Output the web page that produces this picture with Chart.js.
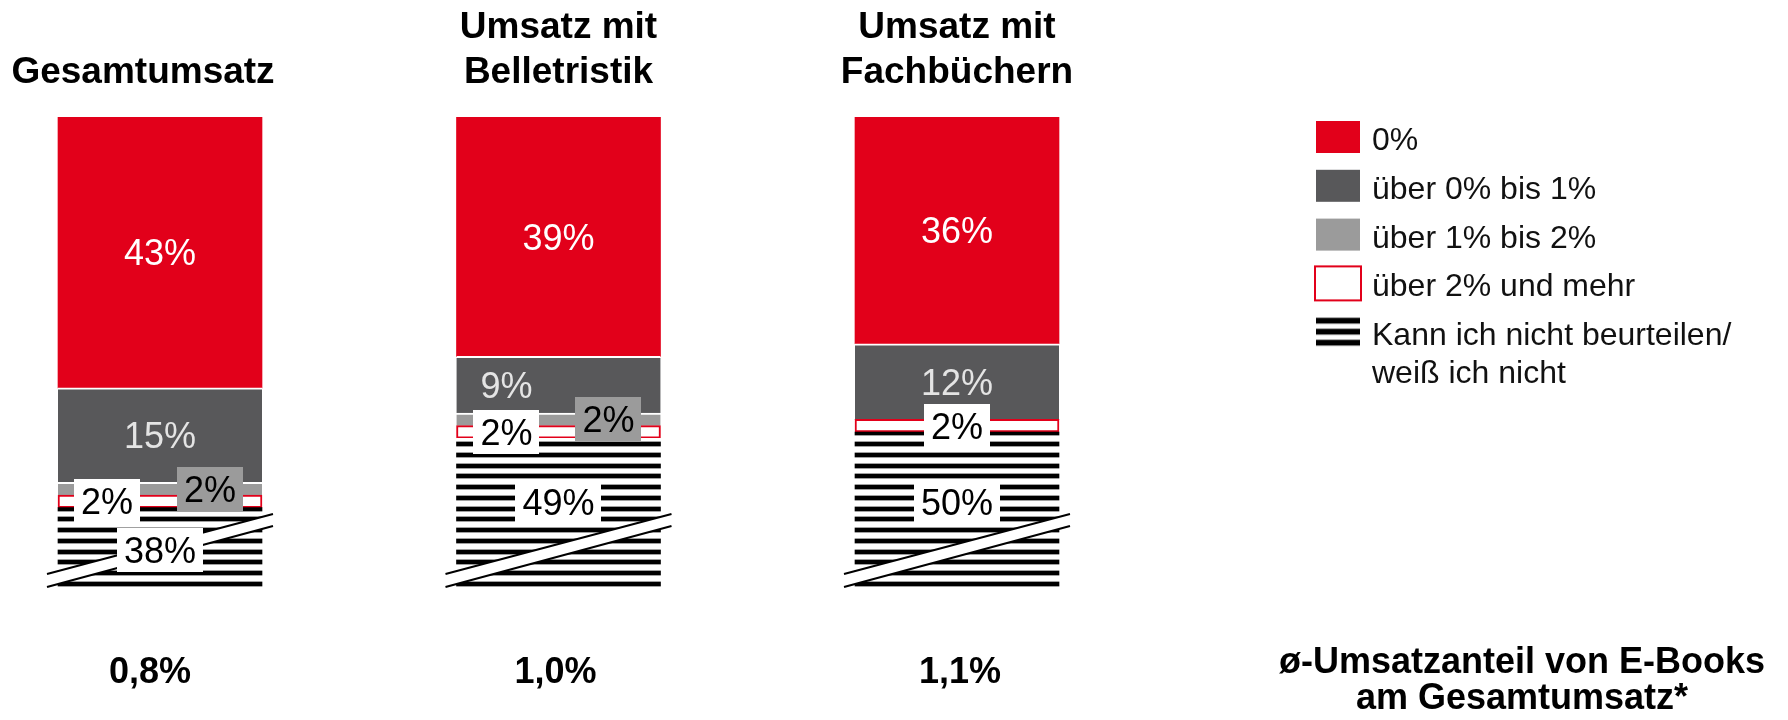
<!DOCTYPE html>
<html lang="de">
<head>
<meta charset="utf-8">
<title>E-Book-Umsatzanteil</title>
<script src="https://cdn.jsdelivr.net/npm/chart.js@4.4.1/dist/chart.umd.min.js"></script>
<style>
  html, body { margin: 0; padding: 0; background: #fff; }
  #wrap { width: 1788px; height: 720px; }
</style>
</head>
<body>
<div id="wrap"><canvas id="chart" width="1788" height="720"></canvas></div>
<script>
// Daten
const categories = [['Gesamtumsatz'], ['Umsatz mit', 'Belletristik'], ['Umsatz mit', 'Fachbüchern']]
const share0 = [43, 39, 36]
const shareUpTo1 = [15, 9, 12]
const shareUpTo2 = [2, 2, 0]
const shareAbove2 = [2, 2, 2]
const dontKnow = [38, 49, 50]
const avgShare = ['0,8%', '1,0%', '1,1%']
const avgCaption = ['ø-Umsatzanteil von E-Books', 'am Gesamtumsatz*']
const seriesLabels = ['0%', 'über 0% bis 1%', 'über 1% bis 2%', 'über 2% und mehr', 'Kann ich nicht beurteilen/\nweiß ich nicht']

const RED = '#e2001a'
const DARK = '#58585a'
const LIGHT = '#9b9b9b'
const FONT = '"Liberation Sans", Arial, Helvetica, sans-serif'

// kleine Layout-Korrekturen (Pixel)
const titleShift = [-17, 0, 0]
const avgShift = [-10, -3, 3]
const labelStyle = {
  red:     { color: '#ffffff', dx: [0, 0, 0], dy: [0, 0, 0] },
  dark:    { color: '#e4e4e4', dx: [0, -52, 0], dy: [0, 0, 0] },
  light:   { color: '#000000', box: LIGHT, dx: [50, 50, 0], dy: [0, 0, 0] },
  above2:  { color: '#000000', box: '#ffffff', dx: [-53, -52, 0], dy: [0, 0, 0] },
  unknown: { color: '#000000', box: '#ffffff', dx: [0, 0, 0], dy: [0, -13, -10] },
}

function stripePattern() {
  const c = document.createElement('canvas')
  c.width = 8
  c.height = 43
  const g = c.getContext('2d')
  g.fillStyle = '#fff'
  g.fillRect(0, 0, 8, 43)
  for (const y of [3, 14, 25, 36]) {
    g.fillStyle = '#a0a0a0'
    g.fillRect(0, y - 3, 8, 1)
    g.fillRect(0, y + 2, 8, 1)
    g.fillStyle = '#000'
    g.fillRect(0, y - 2, 8, 4)
  }
  return g.createPattern(c, 'repeat')
}

const stripes = stripePattern()
const clip = { left: false, right: false, top: 0, bottom: 0 }
const barBase = { barThickness: 204, clip, borderSkipped: false }

function drawLabel(ctx, text, x, y, st) {
  ctx.font = `36px ${FONT}`
  ctx.textAlign = 'center'
  ctx.textBaseline = 'alphabetic'
  const w = ctx.measureText(text).width
  if (st.box) {
    ctx.fillStyle = st.box
    ctx.fillRect(Math.round(x - w / 2 - 7), Math.round(y - 22), Math.round(w + 14), 44)
  }
  ctx.fillStyle = st.color
  ctx.fillText(text, x, y + 13)
}

const overlay = {
  id: 'overlay',
  afterDatasetsDraw(chart) {
    const { ctx, chartArea } = chart
    const styles = [labelStyle.unknown, labelStyle.above2, labelStyle.light, labelStyle.dark, labelStyle.red]
    ctx.save()

    // Achsenbruch im gestreiften Segment
    chart.getDatasetMeta(0).data.forEach(bar => {
      const b = chartArea.bottom
      const x0 = bar.x - 113, x1 = bar.x + 113
      ctx.beginPath()
      ctx.moveTo(x0, b - 18); ctx.lineTo(x1, b - 78)
      ctx.lineTo(x1, b - 66); ctx.lineTo(x0, b - 5)
      ctx.closePath()
      ctx.fillStyle = '#fff'
      ctx.fill()
      ctx.strokeStyle = '#000'
      ctx.lineWidth = 2
      ctx.beginPath()
      ctx.moveTo(x0, b - 18); ctx.lineTo(x1, b - 78)
      ctx.moveTo(x0, b - 5); ctx.lineTo(x1, b - 66)
      ctx.stroke()
    })

    // Segmentbeschriftungen
    chart.data.datasets.forEach((ds, di) => {
      const st = styles[di]
      chart.getDatasetMeta(di).data.forEach((bar, i) => {
        const v = ds.data[i]
        if (!v) return
        const top = Math.max(bar.y, chartArea.top)
        const bottom = Math.min(bar.base, chartArea.bottom)
        drawLabel(ctx, v + '%', bar.x + st.dx[i], (top + bottom) / 2 + st.dy[i], st)
      })
    })
    ctx.restore()
  },
  afterDraw(chart) {
    const { ctx } = chart
    const xs = chart.scales.x
    ctx.save()
    ctx.fillStyle = '#000'
    ctx.textAlign = 'center'
    ctx.textBaseline = 'alphabetic'

    ctx.font = `bold 37px ${FONT}`
    categories.forEach((lines, i) => {
      const x = xs.getPixelForValue(i) + titleShift[i]
      lines.forEach((ln, j) => ctx.fillText(ln, x, 83 - (lines.length - 1 - j) * 45))
    })

    ctx.font = `bold 36px ${FONT}`
    avgShare.forEach((t, i) => ctx.fillText(t, xs.getPixelForValue(i) + avgShift[i], 683))
    avgCaption.forEach((t, j) => ctx.fillText(t, 1522, 673 + j * 36))

    // Legende
    const order = [4, 3, 2, 1, 0]
    ctx.textAlign = 'left'
    ctx.font = `32px ${FONT}`
    order.forEach((di, r) => {
      const ds = chart.data.datasets[di]
      const cy = 137 + r * 48.8
      if (di === 0) {
        for (const oy of [-14, -3, 8]) {
          ctx.fillStyle = '#9a9a9a'
          ctx.fillRect(1316, cy + oy - 1, 44, 7)
          ctx.fillStyle = '#000'
          ctx.fillRect(1316, cy + oy, 44, 5)
        }
      } else if (di === 1) {
        ctx.fillStyle = '#fff'
        ctx.fillRect(1315, cy - 17, 46, 34)
        ctx.strokeStyle = RED
        ctx.lineWidth = 2
        ctx.strokeRect(1315, cy - 17, 46, 34)
      } else {
        ctx.fillStyle = ds.backgroundColor
        ctx.fillRect(1316, cy - 16, 44, 32)
      }
      ctx.fillStyle = '#111'
      ds.label.split('\n').forEach((ln, j) => ctx.fillText(ln, 1372, cy + 13 + j * 38))
    })
    ctx.restore()
  },
}

new Chart(document.getElementById('chart'), {
  type: 'bar',
  data: {
    labels: categories.map(c => c.join(' ')),
    datasets: [
      { ...barBase, label: seriesLabels[4], data: dontKnow, backgroundColor: stripes, borderWidth: 0 },
      { ...barBase, label: seriesLabels[3], data: shareAbove2, backgroundColor: '#fff', borderColor: RED, borderWidth: 2 },
      { ...barBase, label: seriesLabels[2], data: shareUpTo2, backgroundColor: LIGHT, borderColor: '#fff', borderWidth: { top: 2 } },
      { ...barBase, label: seriesLabels[1], data: shareUpTo1, backgroundColor: DARK, borderColor: '#fff', borderWidth: { top: 2 } },
      { ...barBase, label: seriesLabels[0], data: share0, backgroundColor: RED, borderWidth: 0 },
    ],
  },
  options: {
    responsive: false,
    animation: false,
    events: [],
    layout: { padding: { left: 160, right: 831, top: 117, bottom: 128 } },
    plugins: { legend: { display: false }, tooltip: { enabled: false } },
    scales: {
      x: { type: 'category', offset: false, stacked: true, display: false },
      y: { stacked: true, display: false, min: 24.6, max: 100 },
    },
  },
  plugins: [overlay],
})
</script>
</body>
</html>
